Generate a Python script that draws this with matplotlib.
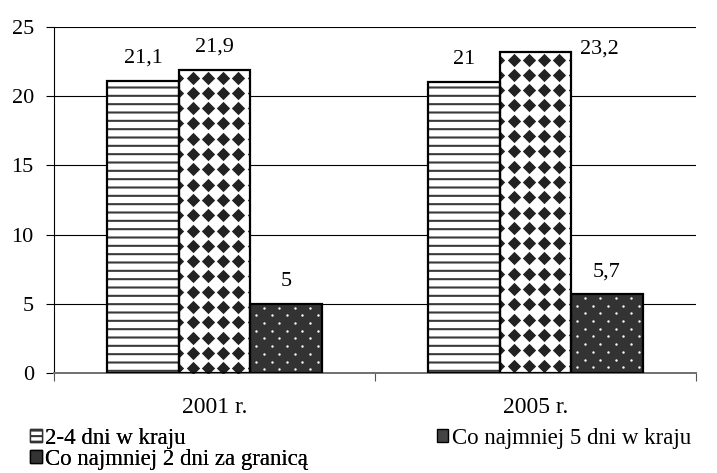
import matplotlib.pyplot as plt
import numpy as np
from matplotlib.patches import Patch

plt.rcParams['font.family'] = ['Liberation Serif', 'DejaVu Serif']
plt.rcParams['hatch.linewidth'] = 1.5

# dane
lata = ['2001 r.', '2005 r.']
serie = ['2-4 dni w kraju', 'Co najmniej 5 dni w kraju', 'Co najmniej 2 dni za granicą']
kraj_2_4 = [21.1, 21.0]
kraj_5 = [21.9, 23.2]
granica_2 = [5.0, 5.7]
etykiety = [['21,1', '21'], ['21,9', '23,2'], ['5', '5,7']]
y_ticks = [0, 5, 10, 15, 20, 25]

fig = plt.figure(figsize=(7.17, 4.73), dpi=100)
ax = fig.add_axes([0.0753, 0.2114, 0.8954, 0.7316])
ax.set_xlim(-0.5, 1.5)
ax.set_ylim(0, 25)

# ile jednostek danych na piksel
pos = ax.get_position()
px_x = 2.0 / (pos.width * 717)
px_y = 25.0 / (pos.height * 473)

x = np.arange(len(lata))
w = 0.2227


def wzor(bar, dx, dy, marker, s, color, stagger=False):
    '''wypelnienie slupka wzorem z markerow'''
    x0, y0 = bar.get_x(), bar.get_y()
    bw, bh = bar.get_width(), bar.get_height()
    xs, ys = [], []
    rows = np.arange(y0 + bh - dy * 0.5, y0 - dy, -dy)
    for i, yy in enumerate(rows):
        off = dx / 2 if (stagger and i % 2) else 0
        cols = np.arange(x0 - dx + off + dx * 0.9, x0 + bw + dx, dx)
        xs.extend(cols)
        ys.extend([yy] * len(cols))
    sc = ax.scatter(xs, ys, marker=marker, s=s, c=color, linewidths=0, zorder=3)
    sc.set_clip_path(bar)


# slupki 2-4 dni (paski poziome)
b1 = ax.bar(x - w, kraj_2_4, w, color='white', edgecolor='#3a3a3a', hatch='--',
            linewidth=0, zorder=2)
# co najmniej 5 dni (romby)
b2 = ax.bar(x, kraj_5, w, color='white', linewidth=0, zorder=2)
for bar in b2:
    wzor(bar, 15.3 * px_x, 15.3 * px_y, 'D', 46, '#222222')
# za granica (kropki)
b3 = ax.bar(x + w, granica_2, w, color='#333333', linewidth=0, zorder=2)
for bar in b3:
    wzor(bar, 15.3 * px_x, 7.7 * px_y, 'o', 3, 'white', stagger=True)

# obramowania
for vals, off in [(kraj_2_4, -w), (kraj_5, 0), (granica_2, w)]:
    ax.bar(x + off, vals, w, fill=False, edgecolor='black', linewidth=1.6, zorder=4)

# etykiety danych
for bars, labs in zip([b1, b2, b3], etykiety):
    for bar, lab in zip(bars, labs):
        cx = bar.get_x() + bar.get_width() / 2
        top = bar.get_height()
        if lab == '23,2':
            ax.annotate(lab, (bar.get_x() + bar.get_width(), top), xytext=(6, -1),
                        textcoords='offset points', ha='left', va='baseline', fontsize=16)
        else:
            ax.annotate(lab, (cx, top), xytext=(0, 13), textcoords='offset points',
                        ha='center', va='baseline', fontsize=16)

# osie
ax.set_yticks(y_ticks)
ax.set_yticklabels([str(v) for v in y_ticks], fontsize=16)
ax.tick_params(axis='y', length=5.5, width=0.8, pad=9)
ax.yaxis.grid(True, color='black', linewidth=0.8)
ax.set_axisbelow(True)

ax.set_xticks([-0.5, 0.5, 1.5])
ax.set_xticklabels([])
ax.set_xticks(x, minor=True)
ax.set_xticklabels(lata, minor=True, fontsize=17)
ax.tick_params(axis='x', which='major', length=5.5, width=0.8, color='#555555')
ax.tick_params(axis='x', which='minor', length=0, pad=17)

for s in ['top', 'right']:
    ax.spines[s].set_visible(False)
ax.spines['left'].set_linewidth(0.8)
ax.spines['bottom'].set_color('#707070')
ax.spines['bottom'].set_linewidth(1.4)

# legenda
h1 = Patch(facecolor='white', edgecolor='#333333', hatch='---', linewidth=1)
h2 = Patch(facecolor='#444444', edgecolor='black', linewidth=1)
h3 = Patch(facecolor='#333333', edgecolor='black', linewidth=1)
opcje = dict(loc='upper left', frameon=False, fontsize=16.5,
             handlelength=0.5, handleheight=0.5, handletextpad=0.15,
             labelspacing=0.0, borderpad=0, borderaxespad=0)
leg1 = fig.legend([h1, h3], [serie[0], serie[2]], bbox_to_anchor=(0.042, 0.095), **opcje)
leg2 = fig.legend([h2], [serie[1]], bbox_to_anchor=(0.609, 0.095), **opcje)
fig.add_artist(leg1)

fig.savefig('out.png', dpi=100)
